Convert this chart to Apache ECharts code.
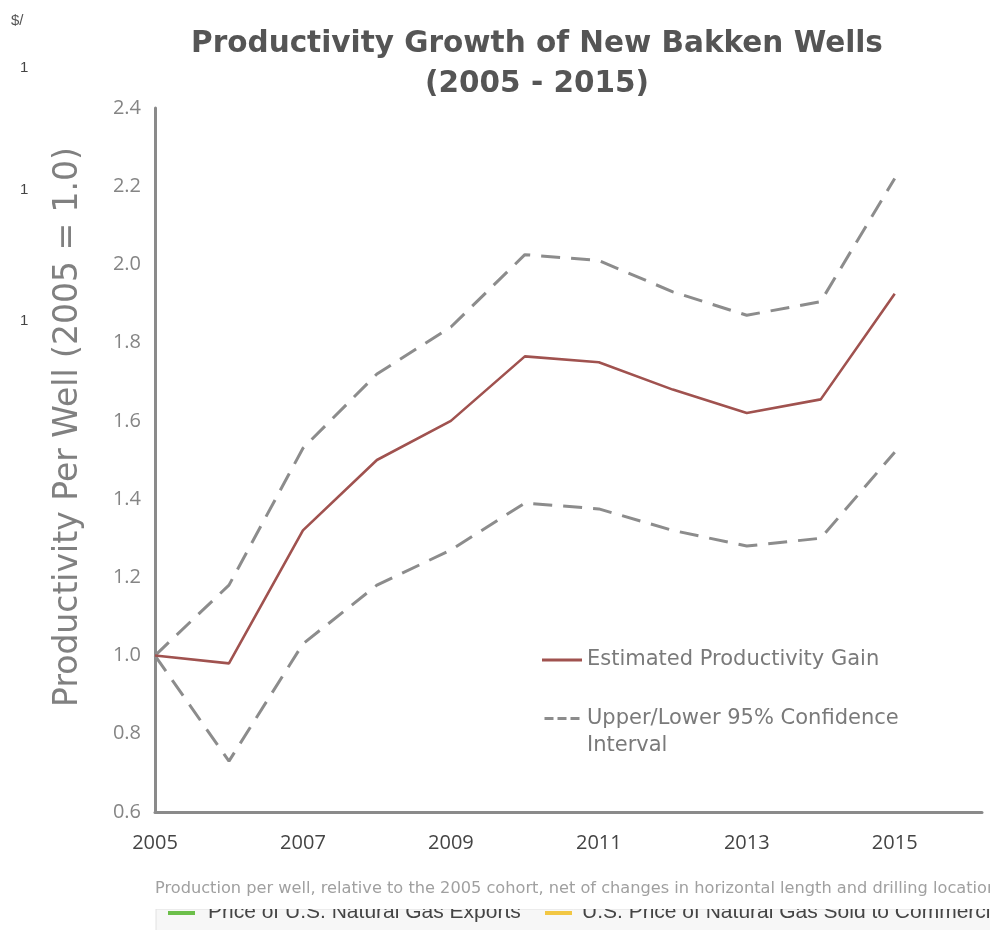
<!DOCTYPE html>
<html>
<head>
<meta charset="utf-8">
<script src="https://cdn.jsdelivr.net/npm/echarts@6/dist/echarts.min.js"></script>
<style>
  html, body { margin: 0; padding: 0; background: #ffffff; }
  #chart { width: 990px; height: 930px; }
</style>
</head>
<body>
<div id="chart"></div>
<script>
// Cohort years and productivity index per new well (2005 = 1.0)
const years = [2005, 2006, 2007, 2008, 2009, 2010, 2011, 2012, 2013, 2014, 2015];
const estimate = [1.00, 0.98, 1.32, 1.50, 1.60, 1.765, 1.75, 1.68, 1.62, 1.655, 1.925];
const upper95 = [1.00, 1.18, 1.53, 1.72, 1.84, 2.025, 2.01, 1.93, 1.87, 1.905, 2.22];
const lower95 = [1.00, 0.73, 1.03, 1.18, 1.27, 1.39, 1.375, 1.32, 1.28, 1.30, 1.52];

// Axis tick settings
const yMin = 0.6, yMax = 2.4, yStep = 0.2;
const xMin = 2005, xMax = 2016.18, xStep = 2;

const estName = 'Estimated Productivity Gain';
const ciName = 'Upper/Lower 95% Confidence\nInterval';
const gasExportName = 'Price of U.S. Natural Gas Exports';
const gasCommercialName = 'U.S. Price of Natural Gas Sold to Commercial';

const pairs = vals => years.map((yr, i) => [yr, vals[i]]);

const font = '"Open Sans", "Noto Sans", sans-serif';
const wideFont = '"DejaVu Sans", "Open Sans", sans-serif';
const dashGray = '#8c8c8c';
const estRed = '#a0524f';

// Legend keys: a solid stroke centred in its box, and a dashed stroke sitting
// at the top of the box so it lines up with the first line of a two-line label
const solidKey = 'path://M0,0h0.1v0.1h-0.1z M0,13.5h40v3h-40z M0,29.9h0.1v0.1h-0.1z';
const dashedKey = 'path://M0,0h9v3h-9z M13,0h9v3h-9z M26,0h9v3h-9z M0,29.9h0.1v0.1h-0.1z';

const stripFont = '21px "Liberation Sans", Arial, sans-serif';

const chart = echarts.init(document.getElementById('chart'), null, { renderer: 'canvas' });

chart.setOption({
  backgroundColor: '#ffffff',
  animation: false,
  title: {
    text: 'Productivity Growth of New Bakken Wells\n(2005 - 2015)',
    left: 532,
    textAlign: 'center',
    top: 19,
    textStyle: {
      fontFamily: wideFont,
      fontSize: 29.5,
      fontWeight: 'bold',
      color: '#555555',
      lineHeight: 40
    }
  },
  grid: { left: 155, right: 8, top: 108, bottom: 118 },
  legend: {
    data: [
      { name: estName, icon: solidKey, itemStyle: { color: estRed } },
      { name: ciName, icon: dashedKey, itemStyle: { color: dashGray } }
    ],
    orient: 'vertical',
    left: 537,
    top: 640,
    itemWidth: 40,
    itemHeight: 30,
    itemGap: 30,
    textStyle: { fontFamily: wideFont, fontSize: 21, color: '#7a7a7a', lineHeight: 27 }
  },
  xAxis: {
    type: 'value',
    min: xMin,
    max: xMax,
    interval: xStep,
    axisLine: { show: true, lineStyle: { color: '#8a8a8a', width: 3 } },
    axisTick: { show: false },
    splitLine: { show: false },
    axisLabel: {
      showMaxLabel: false,
      margin: 21,
      fontFamily: font,
      fontSize: 20,
      color: '#444',
      formatter: v => String(Math.round(v))
    }
  },
  yAxis: {
    type: 'value',
    min: yMin,
    max: yMax,
    interval: yStep,
    name: 'Productivity Per Well (2005 = 1.0)',
    nameLocation: 'middle',
    nameGap: 70,
    nameTextStyle: { fontFamily: wideFont, fontSize: 33, color: '#808080', padding: [0, 0, 0, 66] },
    axisLine: { show: true, lineStyle: { color: '#8a8a8a', width: 3 } },
    axisTick: { show: false },
    splitLine: { show: false },
    axisLabel: {
      margin: 14,
      fontFamily: font,
      fontSize: 20,
      color: '#858585',
      formatter: v => v.toFixed(1)
    }
  },
  series: [
    {
      name: ciName,
      type: 'line',
      data: pairs(upper95),
      symbol: 'none',
      color: dashGray,
      lineStyle: { color: dashGray, width: 3, type: [19, 11] },
      z: 2
    },
    {
      name: ciName,
      type: 'line',
      data: pairs(lower95),
      symbol: 'none',
      color: dashGray,
      lineStyle: { color: dashGray, width: 3, type: [19, 11] },
      z: 2
    },
    {
      name: estName,
      type: 'line',
      data: pairs(estimate),
      symbol: 'none',
      color: estRed,
      lineStyle: { color: estRed, width: 2.6 },
      z: 3
    }
  ],
  graphic: [
    // caption under the axis
    {
      type: 'text',
      left: 155,
      top: 881,
      silent: true,
      style: {
        text: 'Production per well, relative to the 2005 cohort, net of changes in horizontal length and drilling location',
        font: '16.2px "DejaVu Sans", sans-serif',
        fill: '#a0a0a0'
      }
    },
    // pale panel holding a second legend strip, partly cut off at the top
    {
      type: 'rect',
      shape: { x: 156, y: 909, width: 840, height: 30 },
      style: { fill: '#f7f7f7', stroke: '#e2e2e2', lineWidth: 1 },
      z: 0,
      silent: true
    },
    {
      type: 'rect',
      shape: { x: 168, y: 911, width: 27, height: 4 },
      style: { fill: '#6cbf4a' },
      z: 50,
      silent: true
    },
    {
      type: 'text',
      x: 208, y: 912,
      silent: true,
      z: 50,
      style: { text: gasExportName, font: stripFont, fill: '#444', verticalAlign: 'middle' }
    },
    {
      type: 'rect',
      shape: { x: 545, y: 911, width: 27, height: 4 },
      style: { fill: '#f2c744' },
      z: 50,
      silent: true
    },
    {
      type: 'text',
      x: 582, y: 912,
      silent: true,
      z: 50,
      style: { text: gasCommercialName, font: stripFont, fill: '#444', verticalAlign: 'middle' }
    },
    // white band masking the top of that strip
    {
      type: 'rect',
      shape: { x: 150, y: 898, width: 845, height: 11 },
      style: { fill: '#ffffff' },
      z: 100,
      silent: true
    },
    // stray unit and tick fragments along the left edge
    {
      type: 'text', left: 11, top: 13, silent: true,
      style: { text: '$/', font: '15px "Liberation Sans", Arial, sans-serif', fill: '#555' }
    },
    {
      type: 'text', left: 20, top: 60, silent: true,
      style: { text: '1', font: '15px "Liberation Sans", Arial, sans-serif', fill: '#444' }
    },
    {
      type: 'text', left: 20, top: 182, silent: true,
      style: { text: '1', font: '15px "Liberation Sans", Arial, sans-serif', fill: '#444' }
    },
    {
      type: 'text', left: 20, top: 313, silent: true,
      style: { text: '1', font: '15px "Liberation Sans", Arial, sans-serif', fill: '#444' }
    }
  ]
});
</script>
</body>
</html>
